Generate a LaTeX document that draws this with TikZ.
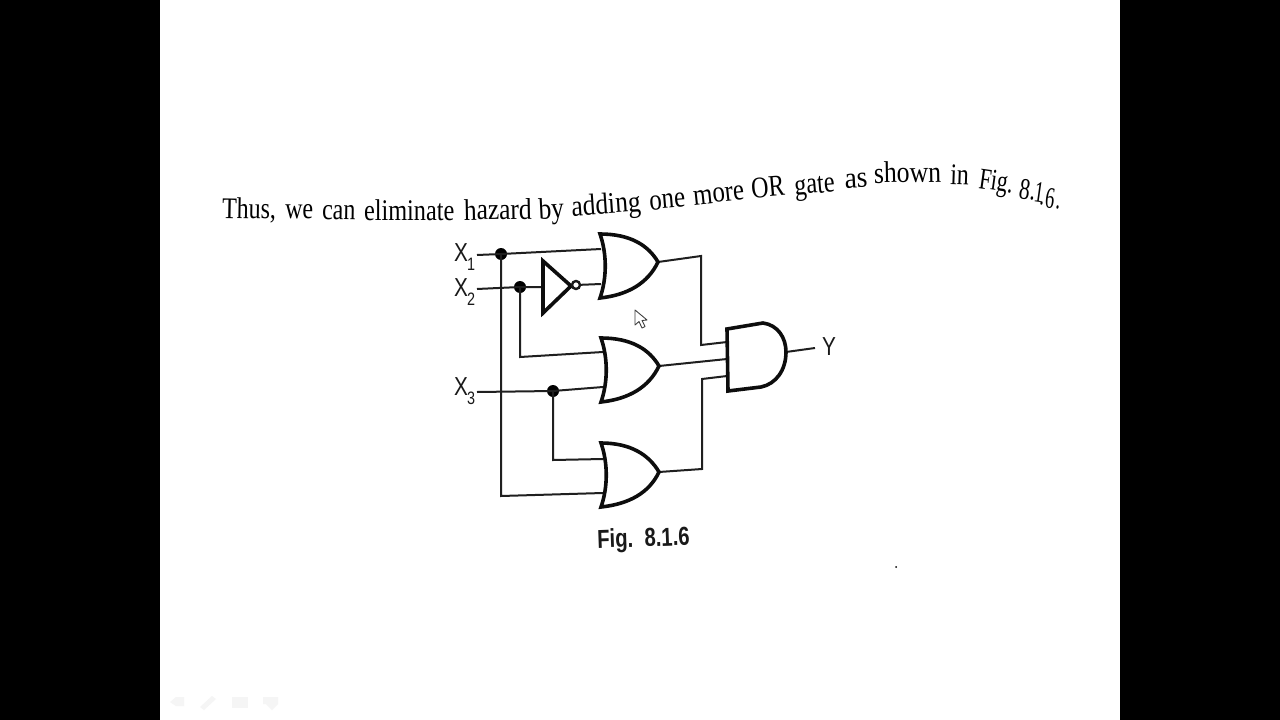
\documentclass[tikz,border=0pt]{standalone}
\usepackage{fontspec}
\setmainfont{Liberation Serif}
\setsansfont{Liberation Sans}
\newcommand{\sw}[2][0.8]{\scalebox{#1}[1]{#2}}
\tikzset{
  word/.style={anchor=base west,inner sep=0pt,outer sep=0pt,font=\fontsize{30}{30}\selectfont,text=black},
  lab/.style={inner sep=0pt,font=\sffamily\fontsize{26}{26}\selectfont,text=black!90},
  sublab/.style={inner sep=0pt,font=\sffamily\fontsize{18}{18}\selectfont,text=black!90},
  wire/.style={line width=2pt,black!88,line join=miter},
  gate/.style={line width=3.6pt,black!95,line join=miter},
  dotn/.style={circle,fill=black,inner sep=0pt,minimum width=10pt,minimum height=12pt},
  bub/.style={circle,draw=black!90,line width=2.4pt,fill=white,inner sep=0pt,minimum size=8pt},
  icon/.style={fill=black!4,draw=none}
}
\begin{document}
\begin{tikzpicture}[x=1pt,y=-1pt]
\useasboundingbox (0,0) rectangle (1280,720);
\fill[black] (0,0) rectangle (1280,720);
\fill[white] (160,0) rectangle (1120,720);
% heading, word by word along the curved page
\node[word,rotate=-1] (w1) at (222,218) {\sw{Thus,}};
\node[word,rotate=-1] (w2) at (285,218) {\sw{we}};
\node[word,rotate=-1] (w3) at (322,219) {\sw{can}};
\node[word,rotate=0] (w4) at (364,220) {\sw[0.81]{eliminate}};
\node[word,rotate=1] (w5) at (464,220) {\sw[0.85]{hazard}};
\node[word,rotate=3] (w6) at (539,219) {\sw[0.85]{by}};
\node[word,rotate=4] (w7) at (572,216) {\sw[0.85]{adding}};
\node[word,rotate=5] (w8) at (650,210) {\sw[0.83]{one}};
\node[word,rotate=6] (w9) at (694,205) {\sw[0.83]{more}};
\node[word,rotate=5] (w10) at (752,198) {\sw{OR}};
\node[word,rotate=5] (w11) at (795,195) {\sw[0.81]{gate}};
\node[word,rotate=3] (w12) at (845,188) {\sw[0.92]{as}};
\node[word,rotate=1] (w13) at (874,183) {\sw[0.86]{shown}};
\node[word,rotate=-2] (w14) at (950,184) {\sw{in}};
\node[word,rotate=-8] (w15) at (978,188) {\sw[0.72]{Fig.}};
\node[word,rotate=-8] (w16) at (1018,198) {\sw[0.72]{8}};
\node[word,rotate=-8] (w17) at (1029,199) {\sw[0.72]{.}};
\node[word,rotate=-8] (w18) at (1033,201) {\sw[0.62]{1}};
\node[word,rotate=-8] (w19) at (1039,204) {\sw[0.62]{.}};
\node[word,rotate=-8] (w20) at (1044,207) {\sw[0.62]{6}};
\node[word,rotate=-8] (w21) at (1055,208) {\sw[0.62]{.}};
% pins
\coordinate (x1s) at (477,255); \coordinate (x2s) at (477,289); \coordinate (x3s) at (477,392);
\coordinate (a1) at (601,249); \coordinate (a2) at (601,284);
\coordinate (b1) at (603,352); \coordinate (b2) at (603,387);
\coordinate (c1) at (603,459); \coordinate (c2) at (603,493);
\coordinate (ao) at (658,262); \coordinate (bo) at (659,366); \coordinate (co) at (659,472);
\coordinate (d1) at (727,342); \coordinate (d2) at (727,359); \coordinate (d3) at (727,376);
\coordinate (do) at (786,352); \coordinate (yo) at (815,348);
\coordinate (k1) at (501,496); \coordinate (k2) at (520,357); \coordinate (k3) at (553,460);
\coordinate (m1) at (701,256); \coordinate (m2) at (701,345);
\coordinate (m3) at (702,469); \coordinate (m4) at (702,379);
\node[dotn] (j1) at (501,254) {};
\node[dotn] (j2) at (520,287) {};
\node[dotn] (j3) at (553,391) {};
\coordinate (invin) at (543,287);
% wires
\draw[wire] (x1s) -- (j1.center) -- (a1);
\draw[wire] (x2s) -- (j2.center) -- (invin);
\draw[wire] (x3s) -- (j3.center) -- (b2);
\draw[wire] (j1.center) -- (k1) -- (c2);
\draw[wire] (j2.center) -- (k2) -- (b1);
\draw[wire] (j3.center) -- (k3) -- (c1);
\draw[wire] (ao) -- (m1) -- (m2) -- (d1);
\draw[wire] (bo) -- (d2);
\draw[wire] (co) -- (m3) -- (m4) -- (d3);
\draw[wire] (do) -- (yo);
% inverter
\draw[gate,fill=white] (543,261) -- (571,286) -- (543,313) -- cycle;
\node[bub] (inv) at (576,285) {};
\draw[wire] (inv) -- (a2);
% OR gates
\draw[gate,fill=white] (600,234) .. controls (630,234) and (648,245) .. (658,262)
  .. controls (648,283) and (628,295) .. (600,298)
  .. controls (607,278) and (607,254) .. (600,234) -- cycle;
\draw[gate,fill=white] (601,338) .. controls (631,338) and (649,349) .. (659,366)
  .. controls (649,387) and (629,399) .. (601,402)
  .. controls (608,382) and (608,358) .. (601,338) -- cycle;
\draw[gate,fill=white] (601,443) .. controls (631,443) and (649,455) .. (659,472)
  .. controls (649,493) and (629,504) .. (601,507)
  .. controls (608,487) and (608,463) .. (601,443) -- cycle;
% AND gate
\draw[gate,fill=white] (727,329) -- (763,323) .. controls (778,325) and (786,338) .. (786,352)
  .. controls (786,370) and (776,384) .. (761,387) -- (728,391) -- cycle;
% labels
\node[lab] (lx1) at (461,253) {\sw{X}};
\node[sublab] (sx1) at (471,264) {\sw{1}};
\node[lab] (lx2) at (461,288) {\sw{X}};
\node[sublab] (sx2) at (471,299) {\sw{2}};
\node[lab] (lx3) at (461,387) {\sw{X}};
\node[sublab] (sx3) at (471,398) {\sw{3}};
\node[lab] (ly) at (829,347) {\sw{Y}};
\node[lab,rotate=2,font=\sffamily\bfseries\fontsize{26}{26}\selectfont] (cap) at (643.5,540) {\scalebox{0.78}[1]{Fig.\ \ 8.1.6}};
% cursor
\draw[line width=0.9pt,black!75,fill=white,line join=round] (635,310) -- (635,325) -- (639,321.5) -- (642,328) -- (645,326.5) -- (642,320.5) -- (647,320) -- cycle;
% speck and faint toolbar
\fill[black] (896,567) circle (1pt);
\fill[icon] (170,702) -- (176,697) -- (184,697) -- (184,706) -- (176,706) -- cycle;
\fill[icon] (200,707) -- (212,696) -- (216,699) -- (204,710) -- cycle;
\fill[icon] (232,697) rectangle (248,708);
\fill[icon] (263,697) -- (278,697) -- (278,704) -- (272,710) -- (266,704) -- (263,704) -- cycle;
\end{tikzpicture}
\end{document}
